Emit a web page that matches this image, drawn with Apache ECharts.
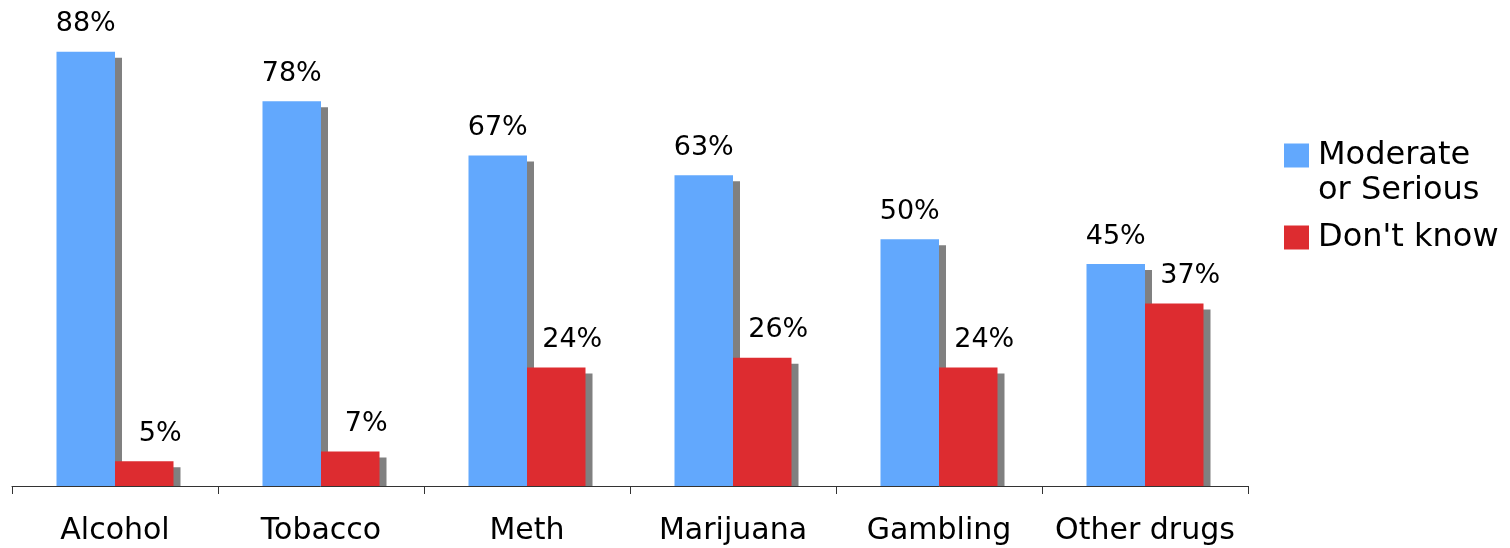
<!DOCTYPE html>
<html>
<head>
<meta charset="utf-8">
<script src="https://cdn.jsdelivr.net/npm/echarts@6/dist/echarts.min.js"></script>
<style>
    html, body { margin: 0; padding: 0; background: #fff; }
    #chart { width: 1510px; height: 548px; }
</style>
</head>
<body>
<div id="chart"></div>
<script>
const categories = ["Alcohol", "Tobacco", "Meth", "Marijuana", "Gambling", "Other drugs"];
const moderateOrSerious = [88, 78, 67, 63, 50, 45];
const dontKnow = [5, 7, 24, 26, 24, 37];

const FONT = "DejaVu Sans";
const BAR_RATIO = 0.284;
const chart = echarts.init(document.getElementById("chart"));

// gray drop shadow behind each bar, stopping at the axis
function shadowItem(side) {
    return function (params, api) {
        const i = api.value(0);
        const top = api.coord([i, api.value(1)]);
        const base = api.coord([i, 0]);
        const w = api.size([1, 0])[0] * BAR_RATIO;
        const left = side < 0 ? top[0] - w : top[0];
        return {
            type: "rect",
            shape: { x: left + 7, y: top[1] + 6, width: w, height: base[1] - top[1] - 6 },
            style: { fill: "#808080" },
        };
    };
}

const option = {
    animation: false,
    textStyle: { fontFamily: FONT },
    grid: { left: 12, right: 262, top: 42, bottom: 62 },
    legend: {
        orient: "vertical",
        left: 1284,
        top: 103,
        padding: 0,
        itemWidth: 25,
        itemHeight: 24,
        itemGap: 12,
        icon: "rect",
        textStyle: {
            fontFamily: FONT,
            fontSize: 32,
            lineHeight: 35,
            color: "#000",
            padding: [0, 0, 0, 4],
        },
        data: ["Moderate or Serious", "Don't know"],
        // leading empty line keeps the icon level with "Moderate"
        formatter: (name) => (name === "Moderate or Serious" ? "\nModerate\nor Serious" : name),
    },
    xAxis: {
        type: "category",
        data: categories,
        axisLine: { lineStyle: { color: "#333", width: 1 } },
        axisTick: { show: true, length: 8, lineStyle: { color: "#333" } },
        axisLabel: { interval: 0, fontSize: 30, color: "#000", margin: 30, fontFamily: FONT },
        z: 10,
    },
    yAxis: {
        type: "value",
        min: 0,
        max: 90,
        show: false,
        splitLine: { show: false },
    },
    series: [
        {
            name: "shadow1",
            type: "custom",
            data: moderateOrSerious.map((v, i) => [i, v]),
            renderItem: shadowItem(-1),
            z: 1,
            silent: true,
        },
        {
            name: "shadow2",
            type: "custom",
            data: dontKnow.map((v, i) => [i, v]),
            renderItem: shadowItem(1),
            z: 1,
            silent: true,
        },
        {
            name: "Moderate or Serious",
            type: "bar",
            data: moderateOrSerious,
            barWidth: "28.4%",
            barGap: "0%",
            itemStyle: { color: "#62a8fd" },
            label: {
                show: true,
                position: "top",
                distance: 14,
                formatter: "{c}%",
                fontSize: 27,
                color: "#000",
                fontFamily: FONT,
            },
            z: 2,
        },
        {
            name: "Don't know",
            type: "bar",
            data: dontKnow,
            barWidth: "28.4%",
            barGap: "0%",
            itemStyle: { color: "#dd2c30" },
            label: {
                show: true,
                position: "top",
                distance: 14,
                offset: [16, 0],
                formatter: "{c}%",
                fontSize: 27,
                color: "#000",
                fontFamily: FONT,
            },
            z: 2,
        },
    ],
};
chart.setOption(option);
</script>
</body>
</html>
